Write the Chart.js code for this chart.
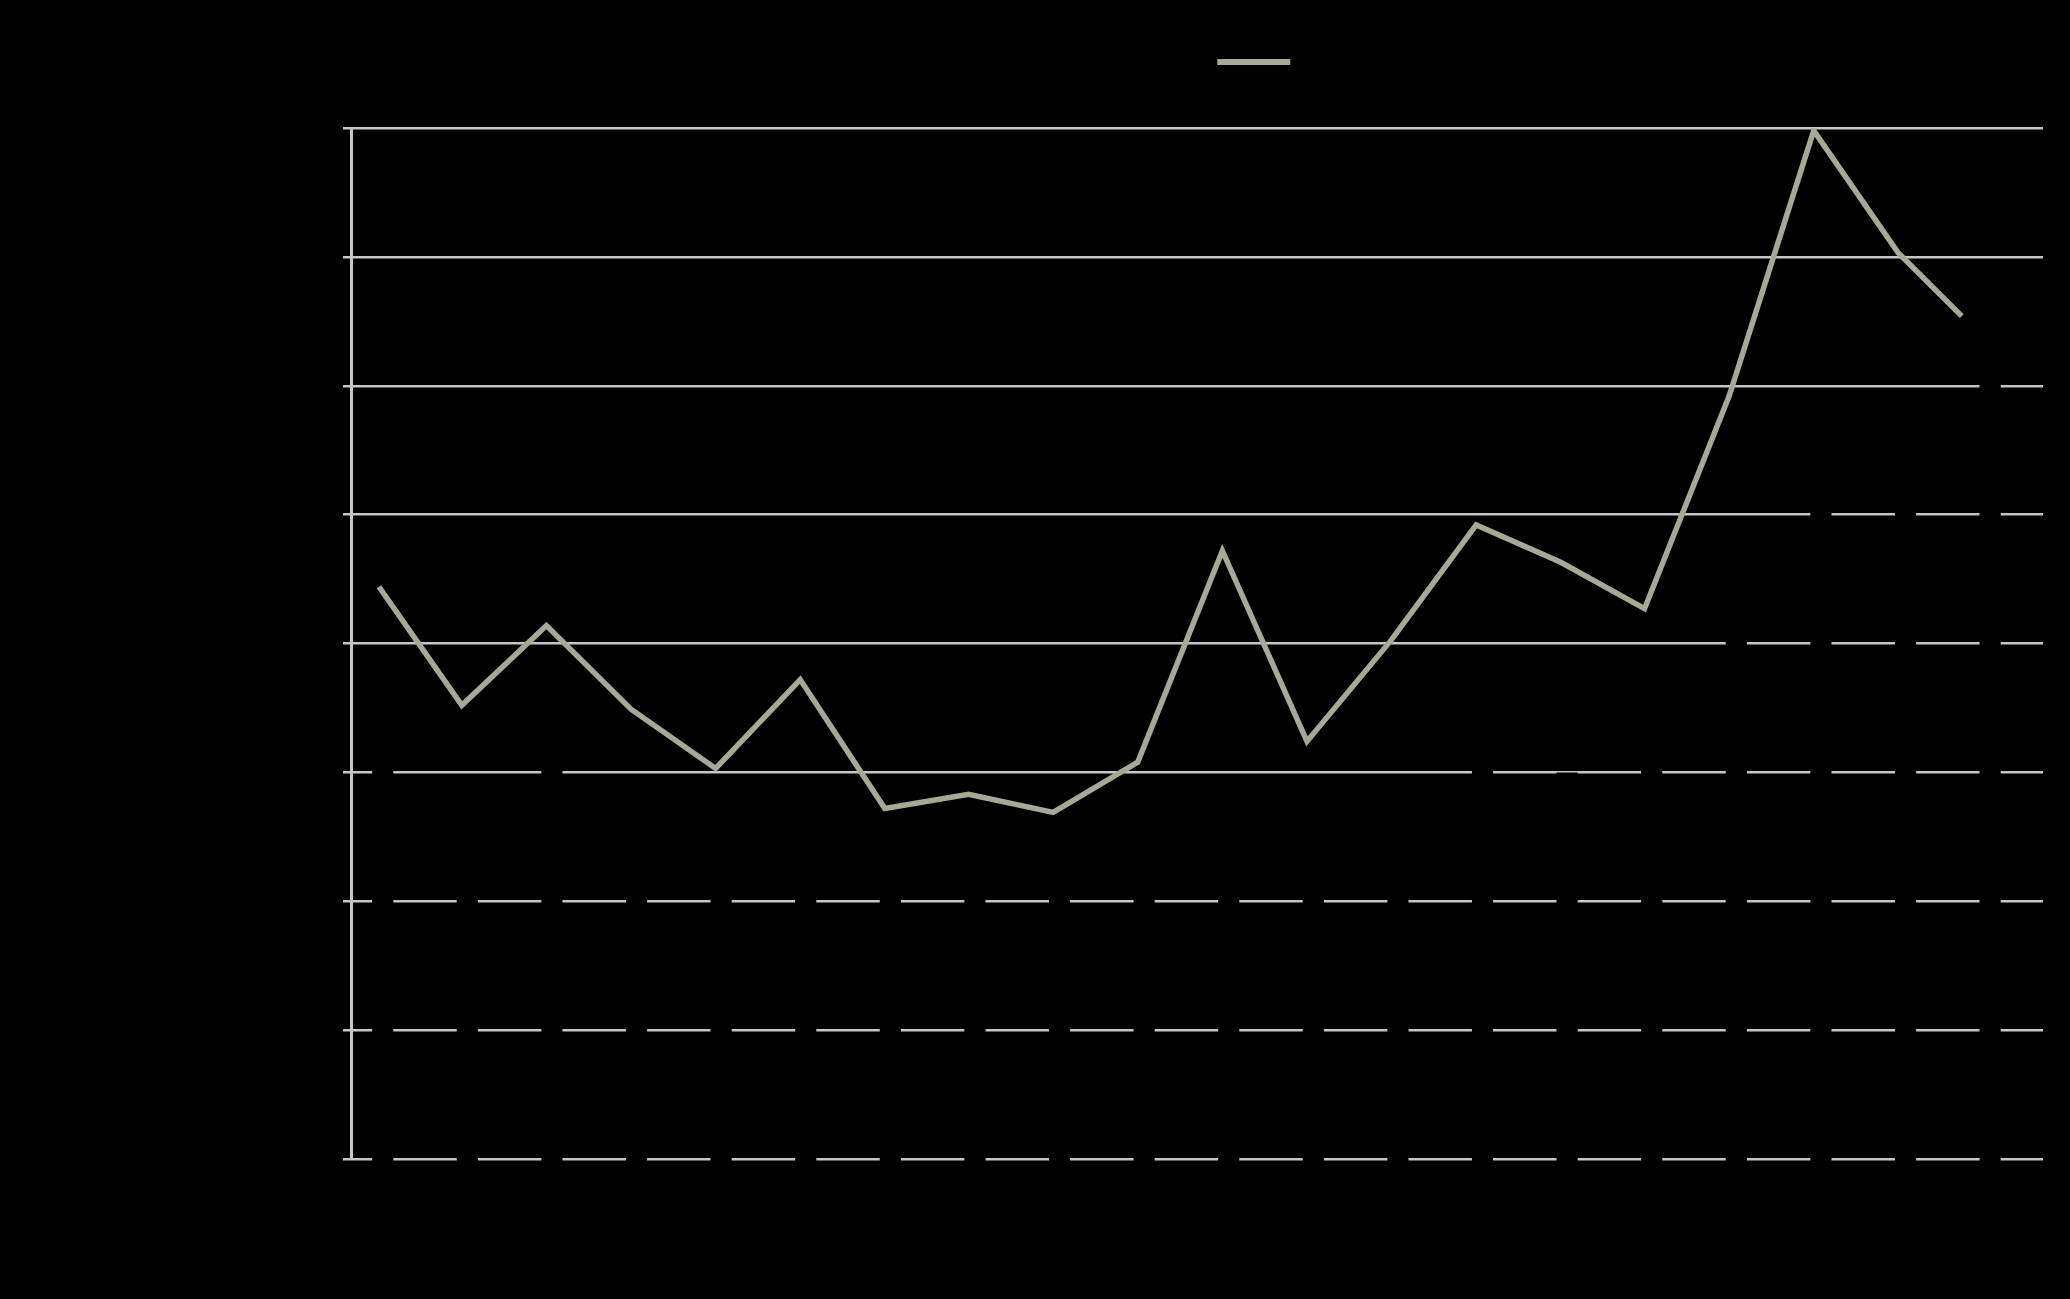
<!DOCTYPE html>
<html>
<head>
<meta charset="utf-8">
<script src="https://cdn.jsdelivr.net/npm/chart.js@4.4.1/dist/chart.umd.min.js"></script>
<style>
html,body{margin:0;padding:0;background:#000;}
#wrap{width:2070px;height:1299px;}
</style>
</head>
<body>
<div id="wrap"><canvas id="myChart"></canvas></div>
<script>
// categories of the (black) bar series
const categories = [
"2004","2005","2006","2007","2008","2009","2010","2011","2012","2013",
"2014","2015","2016","2017","2018","2019","2020","2021","2022","2023"
];

// bar heights, only visible where they hide the grid lines
const barValues = [
3.3, 2.8, 3.2, 2.7, 2.6, 2.7, 2.5, 2.4, 2.4, 2.5,
2.7, 2.6, 2.8, 3.3, 3.0, 3.5, 4.4, 5.5, 5.6, 6.2
];

// line series, positions on the category index scale
const lineX = [
-0.17, 0.81, 1.81, 2.81, 3.81, 4.81, 5.81, 6.8, 7.8, 8.8,
9.8, 10.8, 11.8, 12.8, 13.8, 14.79, 15.79, 16.79, 17.79, 18.54
];
const lineValues = [
4.44, 3.52, 4.14, 3.49, 3.03, 3.72, 2.72, 2.83, 2.69, 3.08,
4.72, 3.24, 4.03, 4.92, 4.63, 4.27, 5.92, 7.98, 7.03, 6.54
];

const yTicks = [0, 1, 2, 3, 4, 5, 6, 7, 8];

const seriesNames = [
"Number of transactions, annual total (left)",
"Index"
];

const gridColor = "#c6c6c6";
const lineColor = "#a7a896";

const ctx =
document
.getElementById("myChart");

// extra room between legend and plot
const legendGap = {
id:"legendGap",
beforeInit(chart){
const fit = chart.legend.fit;
chart.legend.fit = function(){
fit.bind(chart.legend)();
this.height += 44;
};
}
};

let chart =
new Chart(ctx,{

type:"bar",

plugins:[legendGap],

data:{

labels:categories,

datasets:[{
type:"bar",
label:seriesNames[0],
data:barValues,
backgroundColor:"#000",
borderWidth:0,
barPercentage:1,
categoryPercentage:0.5,
base:-0.03,
clip:false,
xAxisID:"x",
order:2
},{
type:"line",
label:seriesNames[1],
data:lineX.map((x,i)=>({x:x,y:lineValues[i]})),
borderColor:lineColor,
backgroundColor:lineColor,
borderWidth:5.5,
pointRadius:0,
tension:0,
fill:false,
xAxisID:"xl",
order:1
}]

},

options:{
responsive:true,
maintainAspectRatio:false,
animation:false,
layout:{
padding:{top:40,right:27,left:0,bottom:0}
},
plugins:{
tooltip:{enabled:false},
legend:{
position:"top",
labels:{
color:"#000",
font:{family:"Liberation Sans",size:24},
boxWidth:73,
boxHeight:6,
padding:10,
sort:(a,b)=>a.datasetIndex-b.datasetIndex,
generateLabels(chart){
const items = Chart.defaults.plugins.legend.labels.generateLabels(chart);
items.forEach(it=>{ it.lineWidth = 0; });
return items;
}
}
}
},
scales:{
x:{
type:"category",
offset:true,
grid:{display:false},
border:{display:false},
ticks:{color:"#000",font:{family:"Liberation Sans",size:22}},
afterFit(scale){ scale.height = 140; }
},
xl:{
type:"linear",
display:false,
offset:false,
grace:0,
min:-0.5,
max:19.5
},
y:{
min:0,
max:8,
afterBuildTicks(scale){
scale.ticks = yTicks.map(v=>({value:v}));
},
grid:{
color:gridColor,
lineWidth:2.5,
tickLength:8,
drawTicks:true
},
border:{color:gridColor,width:3},
ticks:{color:"#000",font:{family:"Liberation Sans",size:24}},
afterFit(scale){ scale.width = 351; }
}
}
}

});
</script>
</body>
</html>
